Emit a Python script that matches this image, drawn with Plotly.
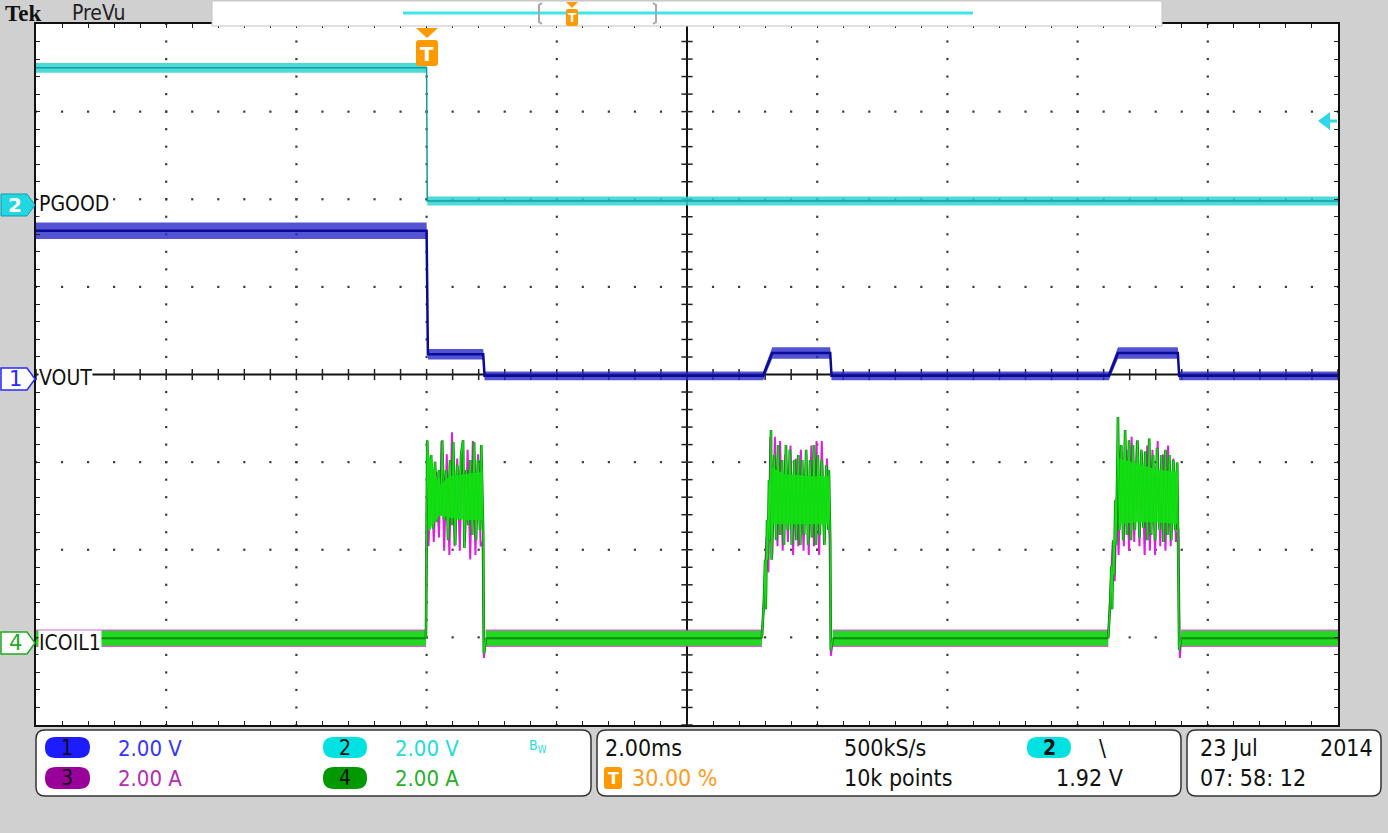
import plotly.graph_objects as go

W, H = 1388, 833
GRID_LEFT, GRID_RIGHT, GRID_TOP, GRID_BOTTOM = 36, 1338, 24, 725
FONT = "Liberation Sans Narrow, DejaVu Sans Condensed, Arial Narrow, sans-serif"

# time base: 2 ms/div, trigger at 30 % of the record
T_RANGE = [-6.0, 14.0]          # ms
DIV_RANGE = [-4.0, 4.0]
PER_DIV = 2.0                   # 2.00 V/div and 2.00 A/div on every channel

# channel reference positions (divisions from screen centre)
CH1_POS = -0.03
CH2_POS = 1.94
CH3_POS = -3.06
CH4_POS = -3.06

# CH2 - PGOOD (V)
PGOOD_T = [-6.0, 0.0, 0.01, 14.0]
PGOOD_V = [3.12, 3.12, 0.08, 0.08]
PGOOD_NOISE = [0.11, 0.11, 0.1, 0.1]

# CH1 - VOUT (V)
VOUT_T = [-6.0, 0.0, 0.02, 0.87, 0.89, 5.17, 5.31, 6.20, 6.22, 10.48, 10.62, 11.54, 11.56, 14.0]
VOUT_V = [3.34, 3.34, 0.52, 0.52, 0.03, 0.03, 0.55, 0.55, 0.03, 0.03, 0.55, 0.55, 0.03, 0.03]
VOUT_NOISE = [0.19, 0.19, 0.12, 0.12, 0.1, 0.1, 0.13, 0.13, 0.1, 0.1, 0.13, 0.13, 0.1, 0.1]

# CH4 / CH3 - ICOIL1 (A): idle stretches between the three bursts
IDLE_START = [-6.0, 0.91, 6.24, 11.59]
IDLE_END = [-0.01, 5.15, 10.47, 14.0]
IDLE_LEVEL = 0.10
IDLE_NOISE = 0.2

# CH4 bursts (green)
BURST1_T = [-0.01, 0.01, 0.04, 0.07, 0.10, 0.13, 0.16, 0.19, 0.22, 0.24, 0.27, 0.30, 0.33, 0.36,
            0.39, 0.41, 0.44, 0.47, 0.50, 0.53, 0.56, 0.58, 0.61, 0.64, 0.67, 0.70, 0.73, 0.76,
            0.79, 0.82, 0.84, 0.86, 0.87, 0.88, 0.91]
BURST1_A = [0.10, 4.62, 2.57, 4.28, 2.60, 4.13, 2.75, 3.94, 2.91, 4.62, 2.80, 3.94, 2.34, 4.17,
            2.68, 4.58, 2.23, 4.05, 2.80, 4.28, 4.62, 2.16, 3.94, 2.68, 4.17, 2.46, 4.58, 2.34,
            4.17, 2.57, 4.51, 2.80, 2.46, -0.25, 0.10]
BURST2_T = [5.15, 5.18, 5.20, 5.21, 5.23, 5.24, 5.26, 5.27, 5.29, 5.30, 5.34, 5.37, 5.40, 5.43,
            5.46, 5.49, 5.52, 5.55, 5.58, 5.61, 5.65, 5.68, 5.71, 5.74, 5.77, 5.80, 5.83, 5.86,
            5.89, 5.92, 5.95, 5.98, 6.01, 6.04, 6.07, 6.11, 6.14, 6.17, 6.18, 6.20, 6.21, 6.24]
BURST2_A = [0.10, 0.88, 1.89, 0.76, 2.80, 1.89, 3.71, 2.34, 4.85, 1.89, 4.28, 2.34, 4.51, 2.46,
            4.17, 2.23, 4.51, 2.57, 4.40, 2.23, 4.17, 2.34, 4.28, 2.23, 4.17, 2.46, 4.40, 2.23,
            4.17, 2.40, 4.51, 2.23, 4.28, 2.46, 4.17, 2.23, 4.05, 2.57, 3.94, 2.34, -0.17, 0.10]
BURST3_T = [10.47, 10.50, 10.52, 10.53, 10.55, 10.56, 10.58, 10.59, 10.61, 10.62, 10.64, 10.67,
            10.70, 10.73, 10.76, 10.79, 10.82, 10.85, 10.88, 10.92, 10.95, 10.98, 11.01, 11.04,
            11.07, 11.10, 11.13, 11.16, 11.19, 11.22, 11.26, 11.29, 11.32, 11.35, 11.38, 11.41,
            11.44, 11.47, 11.50, 11.53, 11.54, 11.56, 11.59]
BURST3_A = [0.10, 0.88, 1.75, 0.76, 2.34, 1.55, 3.25, 2.23, 3.94, 5.15, 2.57, 4.51, 2.34, 4.85,
            2.46, 4.62, 2.34, 4.51, 2.57, 4.62, 2.40, 4.40, 2.62, 4.36, 2.34, 4.66, 2.46, 4.28,
            2.34, 4.45, 2.57, 4.28, 2.30, 4.40, 2.46, 4.28, 2.34, 4.17, 2.57, 4.11, 2.80, -0.17, 0.10]

# dense middle of each burst (green)
BODY1_T = [0.02, 0.20, 0.35, 0.60, 0.86]
BODY1_HI = [4.35, 3.60, 3.80, 3.85, 3.90]
BODY1_LO = [2.55, 2.90, 2.85, 2.80, 2.80]
BODY2_T = [5.30, 5.50, 5.90, 6.18]
BODY2_HI = [4.00, 3.85, 3.80, 3.80]
BODY2_LO = [2.70, 2.70, 2.70, 2.70]
BODY3_T = [10.64, 10.90, 11.20, 11.53]
BODY3_HI = [4.20, 4.10, 3.95, 3.90]
BODY3_LO = [2.70, 2.75, 2.75, 2.70]

# CH3 bursts (magenta, mostly hidden under CH4)
M_BURST1_T = [-0.01, 0.01, 0.03, 0.07, 0.11, 0.15, 0.19, 0.23, 0.27, 0.31, 0.35, 0.39, 0.43, 0.47,
              0.51, 0.55, 0.59, 0.63, 0.67, 0.71, 0.75, 0.79, 0.83, 0.86, 0.88, 0.91]
M_BURST1_A = [0.10, 4.40, 2.20, 4.10, 2.30, 3.90, 2.40, 4.60, 2.10, 4.30, 2.00, 4.80, 2.20, 4.20,
              2.10, 4.50, 2.30, 4.40, 1.90, 4.60, 2.00, 4.30, 2.20, 2.30, -0.35, 0.10]
M_BURST2_T = [5.15, 5.19, 5.22, 5.25, 5.28, 5.31, 5.35, 5.39, 5.43, 5.47, 5.51, 5.55, 5.59, 5.63,
              5.67, 5.71, 5.75, 5.79, 5.83, 5.87, 5.91, 5.95, 5.99, 6.03, 6.07, 6.11, 6.15, 6.19,
              6.21, 6.24]
M_BURST2_A = [0.10, 1.20, 2.40, 1.60, 4.70, 2.00, 4.70, 2.20, 4.60, 2.10, 4.30, 2.30, 4.50, 2.00,
              4.20, 2.20, 4.40, 2.10, 4.30, 2.00, 4.50, 2.20, 4.60, 2.00, 4.60, 2.30, 4.20, 2.40,
              -0.30, 0.10]
M_BURST3_T = [10.47, 10.51, 10.54, 10.57, 10.60, 10.63, 10.67, 10.71, 10.75, 10.79, 10.83, 10.87,
              10.91, 10.95, 10.99, 11.03, 11.07, 11.11, 11.15, 11.19, 11.23, 11.27, 11.31, 11.35,
              11.39, 11.43, 11.47, 11.51, 11.55, 11.57, 11.59]
M_BURST3_A = [0.10, 1.30, 2.30, 1.40, 3.30, 2.00, 4.50, 2.20, 4.40, 2.10, 4.70, 2.30, 4.60, 2.20,
              4.30, 2.00, 4.50, 2.10, 4.40, 2.00, 4.60, 2.20, 4.30, 2.10, 4.50, 2.20, 4.20, 2.30,
              2.60, -0.35, 0.10]

TRIGGER_LEVEL_V = 1.92
TRIGGER_POS_PCT = 30.00


def px(x):
    return x / W


def py(y):
    return 1 - y / H


def pt(x, y):
    return f"{px(x):.5f},{py(y):.5f}"


def poly(points):
    return "M " + " L ".join(pt(x, y) for x, y in points) + " Z"


def rounded(x0, y0, x1, y1, r):
    return (f"M {pt(x0 + r, y0)} L {pt(x1 - r, y0)} Q {pt(x1, y0)} {pt(x1, y0 + r)} "
            f"L {pt(x1, y1 - r)} Q {pt(x1, y1)} {pt(x1 - r, y1)} L {pt(x0 + r, y1)} "
            f"Q {pt(x0, y1)} {pt(x0, y1 - r)} L {pt(x0, y0 + r)} Q {pt(x0, y0)} {pt(x0 + r, y0)} Z")


def to_div(values, pos):
    return [v / PER_DIV + pos for v in values]


def band(t, v, noise):
    up = [a + b for a, b in zip(v, noise)]
    lo = [a - b for a, b in zip(v, noise)]
    return list(t) + list(t)[::-1], up + lo[::-1]


fig = go.Figure()


def add_line(x, y, color, width):
    fig.add_trace(go.Scatter(x=x, y=y, mode="lines", line=dict(color=color, width=width),
                             hoverinfo="skip"))


def add_fill(x, y, color, opacity=1.0):
    fig.add_trace(go.Scatter(x=x, y=y, mode="lines", fill="toself", fillcolor=color,
                             line=dict(width=0), opacity=opacity, hoverinfo="skip"))


# graticule dots on the major lines
dot_x, dot_y = [], []
for i in range(1, 10):
    t = T_RANGE[0] + i * 2.0
    if t == 4.0:
        continue
    for j in range(41):
        dot_x.append(t)
        dot_y.append(DIV_RANGE[0] + j * 0.2)
for d in range(-3, 4):
    if d == 0:
        continue
    for j in range(51):
        dot_x.append(T_RANGE[0] + j * 0.4)
        dot_y.append(d)
fig.add_trace(go.Scatter(x=dot_x, y=dot_y, mode="markers", hoverinfo="skip",
                         marker=dict(symbol="square", size=2.2, color="#3c3c3c")))

# tick marks on the centre cross
fig.add_trace(go.Scatter(x=[4.0] * 41, y=[DIV_RANGE[0] + j * 0.2 for j in range(41)],
                         mode="markers", hoverinfo="skip",
                         marker=dict(symbol="line-ew", size=8, line=dict(color="#222", width=1.5))))
fig.add_trace(go.Scatter(x=[T_RANGE[0] + j * 0.4 for j in range(51)], y=[0.0] * 51,
                         mode="markers", hoverinfo="skip",
                         marker=dict(symbol="line-ns", size=8, line=dict(color="#222", width=1.5))))

# CH2 PGOOD
bx, by = band(PGOOD_T, PGOOD_V, PGOOD_NOISE)
add_fill(bx, to_div(by, CH2_POS), "#2fd2d2", 0.85)
add_line(PGOOD_T, to_div(PGOOD_V, CH2_POS), "#139c9c", 1.5)

# CH1 VOUT
bx, by = band(VOUT_T, VOUT_V, VOUT_NOISE)
add_fill(bx, to_div(by, CH1_POS), "#2828c8", 0.8)
add_line(VOUT_T, to_div(VOUT_V, CH1_POS), "#0a0a96", 2.5)

# CH3 / CH4 ICOIL1
m_bursts = [(M_BURST1_T, M_BURST1_A), (M_BURST2_T, M_BURST2_A), (M_BURST3_T, M_BURST3_A)]
g_bursts = [(BURST1_T, BURST1_A), (BURST2_T, BURST2_A), (BURST3_T, BURST3_A)]
bodies = [(BODY1_T, BODY1_HI, BODY1_LO), (BODY2_T, BODY2_HI, BODY2_LO),
          (BODY3_T, BODY3_HI, BODY3_LO)]

for t0, t1 in zip(IDLE_START, IDLE_END):
    bx, by = band([t0, t1], [IDLE_LEVEL, IDLE_LEVEL], [IDLE_NOISE] * 2)
    add_fill(bx, to_div(by, CH3_POS), "#d81ed8", 0.75)
for t0, t1 in zip(IDLE_START, IDLE_END):
    bx, by = band([t0, t1], [IDLE_LEVEL, IDLE_LEVEL], [IDLE_NOISE - 0.03] * 2)
    add_fill(bx, to_div(by, CH4_POS), "#22d822", 1.0)
    add_line([t0, t1], to_div([IDLE_LEVEL, IDLE_LEVEL], CH4_POS), "#0c8a0c", 2)

for t, a in m_bursts:
    add_line(t, to_div(a, CH3_POS), "#e01ee0", 2)
for t, a in g_bursts:
    add_line(t, to_div(a, CH4_POS), "#0a820a", 2.6)
for t, a in g_bursts:
    add_line(t, to_div(a, CH4_POS), "#16e016", 1.2)
for t, hi, lo in bodies:
    add_fill(list(t) + list(t)[::-1], to_div(hi + lo[::-1], CH4_POS), "#12e012", 0.9)

shapes = [
    # centre cross
    dict(type="line", xref="x", yref="y", x0=4.0, x1=4.0, y0=DIV_RANGE[0], y1=DIV_RANGE[1],
         line=dict(color="#111", width=2), layer="below"),
    dict(type="line", xref="x", yref="y", x0=T_RANGE[0], x1=T_RANGE[1], y0=0, y1=0,
         line=dict(color="#111", width=2), layer="below"),
    # top record bar
    dict(type="rect", xref="paper", yref="paper", x0=px(212), x1=px(1162), y0=py(26), y1=py(1),
         fillcolor="white", line=dict(color="#c4c4c4", width=1)),
    dict(type="line", xref="paper", yref="paper", x0=px(403), x1=px(973), y0=py(13), y1=py(13),
         line=dict(color="#3ee6e6", width=3)),
    dict(type="path", xref="paper", yref="paper",
         path=f"M {pt(542, 3)} L {pt(539, 5)} L {pt(539, 22)} L {pt(542, 24)}",
         line=dict(color="#a8a8a8", width=2)),
    dict(type="path", xref="paper", yref="paper",
         path=f"M {pt(653, 3)} L {pt(656, 5)} L {pt(656, 22)} L {pt(653, 24)}",
         line=dict(color="#a8a8a8", width=2)),
    dict(type="path", xref="paper", yref="paper", path=poly([(566, 2), (578, 2), (572, 8)]),
         fillcolor="#ff9900", line=dict(width=0)),
    dict(type="path", xref="paper", yref="paper", path=rounded(566, 9, 578, 26, 2),
         fillcolor="#ff9900", line=dict(width=0)),
    # trigger position marker
    dict(type="path", xref="paper", yref="paper", path=poly([(416, 28), (438, 28), (427, 38)]),
         fillcolor="#ff9900", line=dict(width=0)),
    dict(type="path", xref="paper", yref="paper", path=rounded(416, 40, 438, 66, 3),
         fillcolor="#ff9900", line=dict(width=0)),
    # trigger level arrow
    dict(type="path", xref="paper", yref="paper", path=poly([(1318, 121), (1330, 112), (1330, 130)]),
         fillcolor="#2ed8e6", line=dict(width=0)),
    dict(type="line", xref="paper", yref="paper", x0=px(1329), x1=px(1337), y0=py(121), y1=py(121),
         line=dict(color="#2ed8e6", width=3)),
    # channel reference badges
    dict(type="path", xref="paper", yref="paper",
         path=poly([(1, 194), (27, 194), (35, 205), (27, 216), (1, 216)]),
         fillcolor="#22d6e2", line=dict(color="#0e9fae", width=1)),
    dict(type="path", xref="paper", yref="paper",
         path=poly([(1, 368), (27, 368), (35, 379), (27, 390), (1, 390)]),
         fillcolor="white", line=dict(color="#2a2aff", width=1.5)),
    dict(type="path", xref="paper", yref="paper",
         path=poly([(1, 632), (27, 632), (35, 643), (27, 654), (1, 654)]),
         fillcolor="white", line=dict(color="#22aa22", width=1.5)),
    # readout boxes
    dict(type="path", xref="paper", yref="paper", path=rounded(36, 730, 591, 796, 9),
         fillcolor="white", line=dict(color="#333", width=1.5)),
    dict(type="path", xref="paper", yref="paper", path=rounded(597, 730, 1181, 796, 9),
         fillcolor="white", line=dict(color="#333", width=1.5)),
    dict(type="path", xref="paper", yref="paper", path=rounded(1187, 730, 1381, 796, 9),
         fillcolor="white", line=dict(color="#333", width=1.5)),
]

pills = [(45, 737, 90, 758, "#1c1cff"), (323, 737, 367, 758, "#00e2e2"),
         (45, 767, 90, 789, "#990099"), (323, 767, 367, 789, "#009900"),
         (1027, 737, 1071, 758, "#00e2e2")]
for x0, y0, x1, y1, c in pills:
    shapes.append(dict(type="path", xref="paper", yref="paper",
                       path=rounded(x0, y0, x1, y1, (y1 - y0) / 2), fillcolor=c, line=dict(width=0)))
shapes.append(dict(type="path", xref="paper", yref="paper", path=rounded(604, 767, 622, 789, 3),
                   fillcolor="#ff9900", line=dict(width=0)))

annotations = []


def txt(x, y, text, color="#111", size=22, anchor="left", family=FONT, bg=None):
    a = dict(xref="paper", yref="paper", x=px(x), y=py(y), text=text, showarrow=False,
             xanchor=anchor, yanchor="middle", font=dict(family=family, size=size, color=color))
    if bg:
        a.update(bgcolor=bg, borderpad=0)
    annotations.append(a)


# top bar
txt(3, 13, "<b>Tek</b>", "#111", 23, family="Liberation Serif, DejaVu Serif, serif")
txt(70, 13, "PreVu", "#222", 21)
txt(572, 18, "<b>T</b>", "white", 12, "center", family="DejaVu Sans, sans-serif")
txt(427, 54, "<b>T</b>", "white", 20, "center", family="DejaVu Sans, sans-serif")

# trace labels
txt(38, 204, "PGOOD", "#111", 21, bg="white")
txt(38, 378, "VOUT", "#111", 21, bg="white")
txt(38, 643, "ICOIL1", "#111", 21, bg="white")
txt(15, 205, "<b>2</b>", "white", 20, "center", family="DejaVu Sans, sans-serif")
txt(15, 379, "1", "#2a2aff", 21, "center", family="DejaVu Sans, sans-serif")
txt(15, 643, "4", "#22aa22", 21, "center", family="DejaVu Sans, sans-serif")

# readouts
txt(67, 748, "1", "#111", 21, "center")
txt(345, 748, "2", "#111", 21, "center")
txt(67, 778, "3", "#111", 21, "center")
txt(345, 778, "4", "#111", 21, "center")
txt(1049, 748, "<b>2</b>", "#111", 21, "center")
txt(613, 778, "<b>T</b>", "white", 16, "center", family="DejaVu Sans, sans-serif")

txt(116, 748, f"{PER_DIV:.2f} V", "#3535ff")
txt(393, 748, f"{PER_DIV:.2f} V", "#1fdcdc")
txt(527, 746, "B<sub>W</sub>", "#1fdcdc", 14)
txt(116, 778, f"{PER_DIV:.2f} A", "#b52cb5")
txt(393, 778, f"{PER_DIV:.2f} A", "#27b027")

txt(603, 748, f"{PER_DIV:.2f}ms", "#111", 23)
txt(842, 748, "500kS/s", "#111", 23)
txt(1097, 748, "\\", "#111", 23)
txt(630, 778, f"{TRIGGER_POS_PCT:.2f} %", "#ff9a1a", 23)
txt(842, 778, "10k points", "#111", 23)
txt(1054, 778, f"{TRIGGER_LEVEL_V:.2f} V", "#111", 23)

txt(1198, 748, "23 Jul", "#111", 23)
txt(1318, 748, "2014", "#111", 23)
txt(1198, 778, "07: 58: 12", "#111", 23)

fig.update_layout(
    width=W, height=H, autosize=False,
    margin=dict(l=0, r=0, t=0, b=0),
    paper_bgcolor="#d0d0d0", plot_bgcolor="white",
    showlegend=False,
    shapes=shapes, annotations=annotations,
    xaxis=dict(range=T_RANGE, domain=[px(GRID_LEFT), px(GRID_RIGHT)], showgrid=False,
               zeroline=False, showline=True, linecolor="#111", linewidth=2, mirror="allticks",
               ticks="inside", ticklen=4, tickwidth=1, tickcolor="#222", tick0=T_RANGE[0],
               dtick=0.4, showticklabels=False, fixedrange=True),
    yaxis=dict(range=DIV_RANGE, domain=[py(GRID_BOTTOM), py(GRID_TOP)], showgrid=False,
               zeroline=False, showline=True, linecolor="#111", linewidth=2, mirror="allticks",
               ticks="inside", ticklen=4, tickwidth=1, tickcolor="#222", tick0=DIV_RANGE[0],
               dtick=0.2, showticklabels=False, fixedrange=True),
)

fig.write_html("out.html", config={"displayModeBar": False},
               post_script="document.body.style.margin='0';")
